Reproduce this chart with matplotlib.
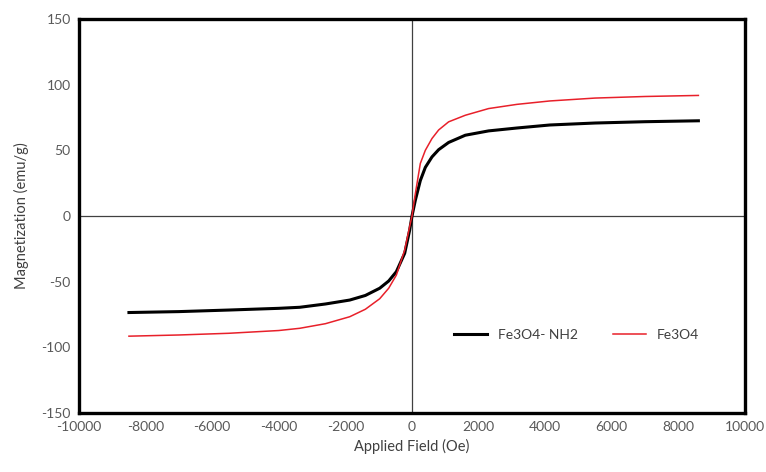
import matplotlib.pyplot as plt

plt.rcParams['font.family'] = ['Lato', 'DejaVu Sans']
plt.rcParams['axes.unicode_minus'] = False

field = [-8500, -7000, -5500, -4000, -3370, -2600, -1870, -1400, -970, -700, -470, -220, -70,
         0, 100, 250, 400, 600, 800, 1100, 1600, 2300, 3150, 4140, 5500, 7000, 8600]

fe3o4_nh2 = [-73.5, -72.8, -71.6, -70.3, -69.5, -67.0, -64.0, -60.5, -55.0, -49.5, -42.4, -28.4, -10.7,
             0, 12.0, 27.0, 37.0, 45.0, 50.5, 56.0, 61.5, 64.8, 67.0, 69.3, 70.8, 71.8, 72.5]
fe3o4 = [-91.5, -90.6, -89.3, -87.2, -85.5, -82.0, -76.7, -71.0, -63.0, -55.0, -45.0, -26.0, -8.0,
         0, 17.0, 40.0, 50.0, 59.0, 65.5, 71.7, 76.7, 81.8, 85.0, 87.6, 89.8, 91.0, 91.8]

xticks = list(range(-10000, 10001, 2000))
yticks = list(range(-150, 151, 50))

fig = plt.figure(figsize=(7.66, 4.72), dpi=100)
ax = fig.add_axes([79 / 766, 1 - 413 / 472, 666 / 766, 394 / 472])

ax.axhline(0, color='#404040', linewidth=0.9, zorder=1)
ax.axvline(0, color='#404040', linewidth=0.9, zorder=1)

ax.plot(field, fe3o4_nh2, color='black', linewidth=2.2, label='Fe3O4- NH2', zorder=3)
ax.plot(field, fe3o4, color='#e8202a', linewidth=1.1, label='Fe3O4', zorder=3)

ax.set_xlim(-10000, 10000)
ax.set_ylim(-150, 150)
ax.set_xticks(xticks)
ax.set_yticks(yticks)
ax.tick_params(length=0, labelsize=10, labelcolor='#595959', pad=6)

for s in ax.spines.values():
    s.set_linewidth(2.4)
    s.set_color('black')

ax.set_xlabel('Applied Field (Oe)', fontsize=10.5, color='#404040', labelpad=4)
ax.set_ylabel('Magnetization (emu/g)', fontsize=10.5, color='#404040', labelpad=9)

ax.legend(loc='center', bbox_to_anchor=(0.747, 0.198), ncol=2, frameon=False,
          fontsize=10, handlelength=2.4, columnspacing=2.5, labelcolor='#404040')

fig.savefig('out.png', dpi=100)
